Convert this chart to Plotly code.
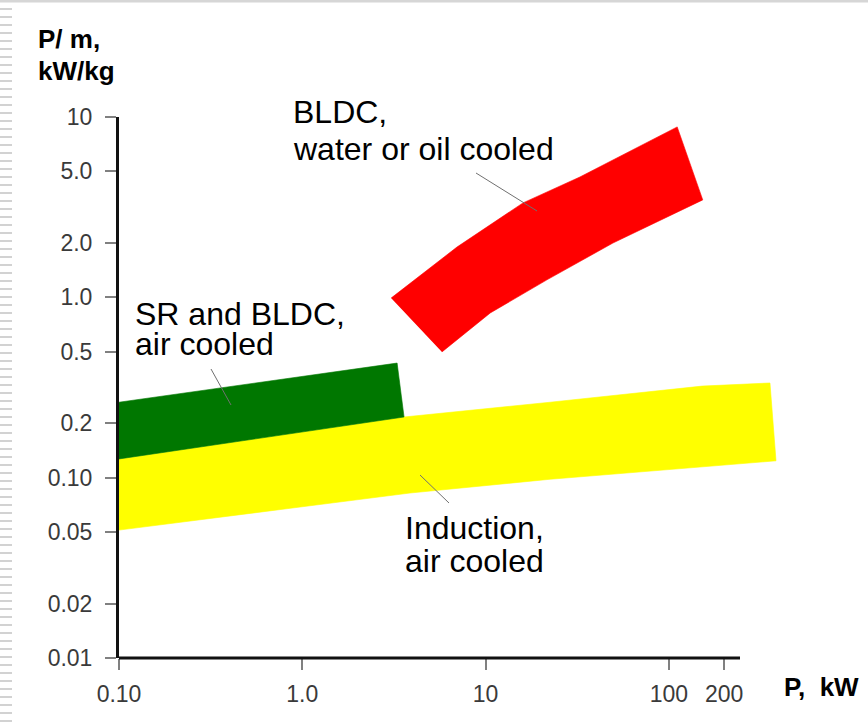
import plotly.graph_objects as go

# ---------------- data (P in kW, P/m in kW/kg) ----------------
red_P = [3.05, 6.98, 16.0, 32.7, 111, 153, 49.5, 21.6, 10.6, 5.78]
red_pm = [0.99, 1.90, 3.34, 4.65, 8.81, 3.47, 2.00, 1.25, 0.819, 0.498]

green_P = [0.1, 3.29, 3.59, 0.1]
green_pm = [0.262, 0.432, 0.217, 0.127]

yellow_P = [0.1, 3.59, 22.5, 152, 356, 384, 22.5, 3.87, 0.1]
yellow_pm = [0.127, 0.217, 0.262, 0.322, 0.335, 0.124, 0.098, 0.0822, 0.0512]

x_tickvals = [0.1, 1, 10, 100, 200]
x_ticktext = ["0.10", "1.0", "10", "100", "200"]
y_tickvals = [0.01, 0.02, 0.05, 0.1, 0.2, 0.5, 1, 2, 5, 10]
y_ticktext = ["0.01", "0.02", "0.05", "0.10", "0.2", "0.5", "1.0", "2.0", "5.0", "10"]

# ---------------- layout helpers ----------------
W, H = 868, 723
L, T, B = 119, 117, 658
AXIS_END = 740          # where the drawn x-axis line stops
PR = 800                # right edge of plotting area (bands extend past the axis line)
DEC_X = 183.3           # pixels per decade on x
FONT = "Liberation Sans, Arial, Helvetica, sans-serif"
x_range = [-1, -1 + (PR - L) / DEC_X]


def px(x):
    return (x - L) / (PR - L)


def py(y):
    return (B - y) / (B - T)


fig = go.Figure()
for xs, ys, col in [(yellow_P, yellow_pm, "#ffff00"),
                    (green_P, green_pm, "#007700"),
                    (red_P, red_pm, "#ff0000")]:
    fig.add_trace(go.Scatter(x=xs, y=ys, mode="lines", fill="toself",
                             fillcolor=col, line=dict(color=col, width=0.6),
                             hoverinfo="skip", showlegend=False))

shapes = []
# x-axis line (stops short of the plotting area's right edge)
shapes.append(dict(type="line", xref="paper", yref="paper",
                   x0=0, x1=px(AXIS_END), y0=0, y1=0, layer="above",
                   line=dict(color="#111111", width=3)))
# leader lines
for (x0, y0, x1, y1) in [(476, 173, 537, 211), (211, 369, 231, 405), (420, 475, 449, 503)]:
    shapes.append(dict(type="line", xref="paper", yref="paper",
                       x0=px(x0), y0=py(y0), x1=px(x1), y1=py(y1),
                       line=dict(color="#707070", width=1)))
# left striped border
path = ""
y = 9
while y < H:
    path += f"M{px(0)},{py(y)} L{px(12)},{py(y)} "
    y += 8
shapes.append(dict(type="path", xref="paper", yref="paper", path=path,
                   line=dict(color="#d2d2d2", width=2)))
# top gray rule
shapes.append(dict(type="line", xref="paper", yref="paper",
                   x0=px(0), x1=px(W), y0=py(1), y1=py(1),
                   line=dict(color="#d6d6d6", width=3)))

annotations = []
labels = [
    ("BLDC,", 293, 123.3),
    ("water or oil cooled", 293, 160),
    ("SR and BLDC,", 135, 325),
    ("air cooled", 135, 355.5),
    ("Induction,", 405, 539.3),
    ("air cooled", 405, 571.7),
]
LS = 32
for txt, lx, base in labels:
    annotations.append(dict(text=txt, xref="paper", yref="paper",
                            x=px(lx - 1), y=py(base - 0.35 * LS),
                            xanchor="left", yanchor="middle", showarrow=False,
                            height=30, borderpad=0, valign="middle",
                            font=dict(family=FONT, size=LS, color="#000000")))
titles = [("P/ m,", 38, 48), ("kW/kg", 38, 80), ("P,  kW", 784, 696)]
TS = 26
for txt, lx, base in titles:
    annotations.append(dict(text=f"<b>{txt}</b>", xref="paper", yref="paper",
                            x=px(lx - 2), y=py(base - 0.35 * TS),
                            xanchor="left", yanchor="middle", showarrow=False,
                            font=dict(family=FONT, size=TS, color="#000000")))

tick_common = dict(showgrid=False, zeroline=False, ticks="outside",
                   ticklen=11, tickwidth=1.5, tickcolor="#808080",
                   tickfont=dict(family=FONT, size=23, color="#3a3a3a"))

fig.update_layout(
    width=W, height=H,
    margin=dict(l=L, r=W - PR, t=T, b=H - B, autoexpand=False),
    paper_bgcolor="white", plot_bgcolor="white",
    xaxis=dict(type="log", range=x_range, tickvals=x_tickvals,
               ticktext=x_ticktext, ticklabelstandoff=4, showline=False,
               **tick_common),
    yaxis=dict(type="log", range=[-2, 1], tickvals=y_tickvals,
               ticktext=y_ticktext, ticklabelstandoff=8, showline=True,
               linecolor="#111111", linewidth=3, **tick_common),
    shapes=shapes, annotations=annotations,
)

fig.write_html("out.html", config={"displayModeBar": False},
               post_script="document.body.style.margin='0';document.body.style.padding='0';")
